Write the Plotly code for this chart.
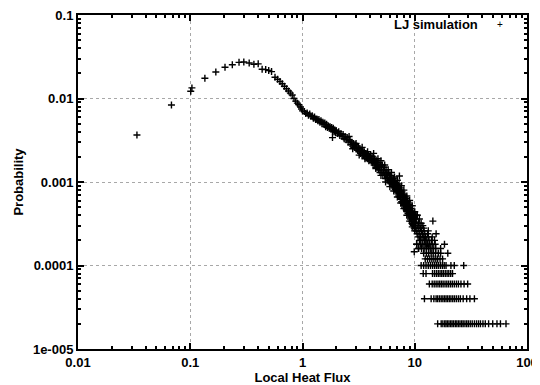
import plotly.graph_objects as go

# ---- data ----
peak_x = [0.0335, 0.068, 0.1035, 0.101, 0.135, 0.169, 0.204, 0.237, 0.272, 0.30, 0.335, 0.369,
          0.403, 0.437, 0.47, 0.50, 0.53, 0.569, 0.60, 0.63, 0.66, 0.69, 0.72, 0.75, 0.78, 0.81,
          0.84, 0.87, 0.90, 0.93, 0.96, 0.98]
peak_y = [0.00366, 0.00835, 0.0134, 0.0122, 0.0175, 0.0208, 0.0237, 0.0254, 0.0271, 0.0274, 0.0266,
          0.0257, 0.026, 0.0224, 0.0222, 0.0216, 0.021, 0.018, 0.0170, 0.0160, 0.0150, 0.0140, 0.0131,
          0.0123, 0.0116, 0.0110, 0.0100, 0.0093, 0.0088, 0.0084, 0.0079, 0.0075]

band_x = [1.00, 1.04, 1.07, 1.10, 1.13, 1.16, 1.19, 1.22, 1.25, 1.28, 1.31, 1.34, 1.37, 1.40, 1.43,
          1.46, 1.49, 1.52, 1.55, 1.58, 1.61, 1.64, 1.67, 1.70, 1.73, 1.76, 1.79, 1.82, 1.85, 1.88,
          1.91, 1.94, 1.97, 2.00, 1.85,
          2.05, 2.10, 2.15, 2.20, 2.25, 2.30, 2.35, 2.40, 2.45, 2.50, 2.55, 2.60, 2.65, 2.70, 2.75,
          2.80, 2.85, 2.90, 2.95, 3.00, 3.05, 3.10, 3.15, 3.20, 3.25, 3.30, 3.35, 3.40, 3.45, 3.50,
          3.55, 3.60, 3.65, 3.70, 3.75, 3.80, 3.85, 3.90, 3.95, 4.00,
          4.05, 4.10, 4.15, 4.20, 4.25, 4.30, 4.35, 4.40, 4.45, 4.50, 4.55, 4.60, 4.65, 4.70, 4.75,
          4.80, 4.85, 4.90, 4.95, 5.00, 5.05, 5.10, 5.15, 5.20, 5.25, 5.30, 5.35, 5.40, 5.45, 5.50,
          5.55, 5.60, 5.65, 5.70, 5.75, 5.80, 5.85, 5.90, 5.95, 6.00, 6.05, 6.10, 6.15, 6.20, 6.25,
          6.30, 6.35, 6.40, 6.45, 6.50, 6.55, 6.60, 6.65, 6.70, 6.75, 6.80, 6.85, 6.90, 6.95, 7.00,
          7.05, 7.10, 7.15, 7.20, 7.25, 7.30, 7.35, 7.40, 7.45, 7.50, 7.55, 7.60, 7.65, 7.70, 7.75,
          7.80, 7.85, 7.90, 7.95, 8.00, 8.05, 8.10, 8.15, 8.20, 8.25, 8.30, 8.35, 8.40, 8.45, 8.50,
          8.55, 8.60, 8.65, 8.70, 8.75, 8.80, 8.85, 8.90, 8.95, 9.00, 9.05, 9.10, 9.15, 9.20, 9.25,
          9.30, 9.35, 9.40, 9.45, 9.50, 9.55, 9.60, 9.65, 9.70, 9.75, 9.80, 9.85, 9.90, 9.95, 10.0]
band_y = [0.0071, 0.0070, 0.0066, 0.0067, 0.0063, 0.0065, 0.0061, 0.0062, 0.0058, 0.0060, 0.0056,
          0.0057, 0.0054, 0.0056, 0.0052, 0.0054, 0.0050, 0.0052, 0.0049, 0.0051, 0.0046, 0.0049,
          0.0045, 0.0047, 0.0044, 0.0046, 0.0043, 0.0045, 0.0041, 0.0044, 0.0040, 0.0042, 0.0039,
          0.0041, 0.0034,
          0.0038, 0.0040, 0.0036, 0.0038, 0.0035, 0.0037, 0.0033, 0.0035, 0.0032, 0.0034, 0.0030,
          0.0032, 0.0031, 0.0028, 0.0030, 0.0027, 0.0029, 0.0026, 0.0028, 0.0025, 0.0027, 0.0024,
          0.0026, 0.0023, 0.0025, 0.0022, 0.0024, 0.0021, 0.0023, 0.0021, 0.0023, 0.0020, 0.0022,
          0.0020, 0.0022, 0.0019, 0.0021, 0.0018, 0.0020, 0.0019,
          0.0021, 0.0018, 0.0019, 0.0017, 0.0020, 0.0018, 0.0016, 0.0019, 0.0017, 0.0015, 0.0018,
          0.0016, 0.0017, 0.0015, 0.0014, 0.0017, 0.0015, 0.0013, 0.0016, 0.0014, 0.0015, 0.0013,
          0.0016, 0.0012, 0.0014, 0.0013, 0.0015, 0.0012, 0.0013, 0.0011, 0.0014, 0.0012, 0.0013,
          0.0011, 0.0012, 0.00105, 0.0013, 0.0011, 0.0012, 0.00098, 0.0011, 0.0012, 0.00095,
          0.00105, 0.0011, 0.00092, 0.0010, 0.00088, 0.0011, 0.00095, 0.00085, 0.0010, 0.00092,
          0.00082, 0.00098, 0.00088, 0.00078, 0.00094, 0.00085, 0.00076,
          0.00090, 0.00072, 0.00082, 0.00068, 0.00095, 0.00078, 0.00066, 0.00085, 0.00072, 0.00062,
          0.00080, 0.00070, 0.00058, 0.00076, 0.00066, 0.00056, 0.00072, 0.00062, 0.00052, 0.00070,
          0.00060, 0.00050, 0.00066, 0.00056, 0.00048, 0.00064, 0.00054, 0.00046, 0.00060, 0.00052,
          0.00044, 0.00058, 0.00050, 0.00042, 0.00056, 0.00048, 0.00040, 0.00054, 0.00046, 0.00038,
          0.00050, 0.00044, 0.00036, 0.00048, 0.00042, 0.00034, 0.00046, 0.00040, 0.00032, 0.00044,
          0.00038, 0.00031, 0.00042, 0.00036, 0.00030, 0.00040, 0.00034, 0.00028, 0.00038, 0.00033]

fringe_x = [2.6, 3.0, 3.4, 3.8, 2.8, 3.2, 3.6,
            4.3, 4.7, 5.0, 5.4, 5.8, 6.2, 6.6, 7.0, 7.3, 7.6, 8.0, 8.5, 9.0, 9.5, 10.0, 10.5,
            4.5, 5.0, 5.5, 6.0, 6.5, 7.0, 7.5, 8.0, 8.5, 9.0, 9.5, 9.9, 10.0, 10.4, 10.8, 14.5]
fringe_y = [0.0035, 0.0029, 0.0026, 0.0023, 0.0025, 0.0021, 0.0019,
            0.0022, 0.0019, 0.0018, 0.0016, 0.0014, 0.0013, 0.00115, 0.00105, 0.00118, 0.00090,
            0.00080, 0.00068, 0.00060, 0.00052, 0.00044, 0.00040,
            0.00145, 0.0012, 0.00100, 0.00088, 0.00078, 0.00066, 0.00056, 0.00048, 0.00040, 0.00034,
            0.00029, 0.000146, 0.00026, 0.00018, 0.00016, 0.00034]

# tail: rows of equal probability (single-count levels) and the x positions on each row
row_levels = [2e-5, 4e-5, 6e-5, 8e-5, 1e-4, 1.2e-4, 1.4e-4, 1.6e-4, 1.8e-4, 2e-4, 2.2e-4,
              2.4e-4, 2.6e-4, 2.8e-4, 3e-4, 3.2e-4, 3.6e-4, 4e-4]
row_x = [
    [16.0, 17.2, 17.8, 18.5, 19.0, 19.6, 20.2, 20.9, 21.5, 22.2, 23.0, 23.7, 24.5, 25.3, 26.2,
     27.0, 28.0, 29.0, 30.0, 31.2, 32.5, 34.0, 35.5, 37.0, 38.5, 40.5, 42.5, 45.5, 49.5, 54.0,
     58.0, 65.0],
    [12.2, 14.0, 14.8, 15.5, 16.0, 16.6, 17.2, 17.8, 18.4, 19.0, 19.6, 20.3, 21.0, 21.8, 22.6,
     23.5, 24.5, 25.5, 27.0, 29.0, 31.0, 34.0],
    [13.5, 14.3, 14.9, 15.5, 16.1, 16.7, 17.3, 17.9, 18.6, 19.3, 20.0, 20.8, 21.6, 22.5, 23.5,
     24.5, 25.8, 27.5, 29.6],
    [11.9, 12.6, 14.4, 15.0, 15.6, 16.2, 16.8, 17.4, 18.0, 18.7, 19.4, 20.1, 20.9, 21.7],
    [11.4, 12.0, 12.6, 13.2, 13.8, 14.4, 15.0, 15.6, 16.2, 16.9, 17.6, 18.3, 19.0, 21.0, 22.5, 27.3],
    [12.4, 13.0, 13.6, 14.2, 14.8, 15.4, 16.0, 16.8, 17.7],
    [12.0, 12.7, 13.3, 14.0, 14.6, 15.3, 16.2, 17.0, 19.7],
    [10.8, 11.5, 12.1, 12.7, 13.3, 13.9, 14.6, 15.4, 17.0],
    [10.4, 11.2, 11.8, 12.4, 13.0, 13.6, 14.3, 15.2, 18.4],
    [11.0, 11.6, 12.2, 12.8, 13.4, 14.1, 15.0],
    [10.7, 11.3, 11.9, 12.5, 13.2, 14.3],
    [10.5, 11.1, 11.7, 12.3, 13.0, 15.5],
    [10.3, 10.9, 11.5, 12.1, 13.2],
    [10.1, 10.7, 11.3, 12.0],
    [10.0, 10.5, 11.1, 11.8],
    [10.2, 10.8, 11.4],
    [10.3, 11.0],
    [10.1, 10.5],
]

series_name = "LJ simulation"
x_ticks = [0.01, 0.1, 1, 10, 100]
x_ticktext = ["0.01", "0.1", "1", "10", "100"]
y_ticks = [1e-5, 1e-4, 1e-3, 1e-2, 1e-1]
y_ticktext = ["1e-005", "0.0001", "0.001", "0.01", "0.1"]

# ---- assemble ----
xs = list(peak_x) + list(band_x) + list(fringe_x)
ys = list(peak_y) + list(band_y) + list(fringe_y)
for lvl, xr in zip(row_levels, row_x):
    xs += xr
    ys += [lvl] * len(xr)

FONT = "Liberation Sans, Arial, sans-serif"

fig = go.Figure()
fig.add_trace(go.Scatter(
    x=xs, y=ys, mode="markers", name=series_name, showlegend=False,
    marker=dict(symbol="cross-thin", size=5, color="black",
                line=dict(width=1.4, color="black")),
))

def minor_vals(lo, hi):
    out = []
    for e in range(lo, hi):
        for m in range(2, 10):
            out.append(m * 10.0 ** e)
    return out

axis_common = dict(
    type="log", showline=True, linewidth=2, linecolor="black", mirror="allticks",
    ticks="inside", ticklen=6, tickwidth=1.5, tickcolor="black",
    showgrid=True, gridcolor="#a8a8a8", griddash="dot", gridwidth=1,
    zeroline=False, tickmode="array", automargin=False, ticklabeloverflow="allow",
    tickfont=dict(family=FONT, size=13, color="black", weight="bold"),
)

fig.update_xaxes(
    **axis_common, range=[-2, 2], tickvals=x_ticks, ticktext=x_ticktext,
    minor=dict(tickmode="array", tickvals=minor_vals(-2, 2), ticks="inside", ticklen=3,
               tickwidth=1.5, tickcolor="black", showgrid=False),
    title=dict(text="Local Heat Flux", standoff=2,
               font=dict(family=FONT, size=13, color="black", weight="bold")),
)
fig.update_yaxes(
    **axis_common, range=[-5, -1], tickvals=y_ticks, ticktext=y_ticktext,
    minor=dict(tickmode="array", tickvals=minor_vals(-5, -1), ticks="inside", ticklen=3,
               tickwidth=1.5, tickcolor="black", showgrid=False),
    title=dict(text="Probability", standoff=6,
               font=dict(family=FONT, size=13, color="black", weight="bold")),
)

fig.add_annotation(x=0.895, y=0.973, xref="paper", yref="paper", text=series_name,
                   showarrow=False, xanchor="right", yanchor="middle",
                   font=dict(family=FONT, size=13, color="black", weight="bold"))
fig.add_annotation(x=0.94, y=0.973, xref="paper", yref="paper", text="+",
                   showarrow=False, xanchor="center", yanchor="middle",
                   font=dict(family=FONT, size=10, color="black"))

# the page adds an 8 px body margin at left/top, so the figure is 8 px smaller on each axis
fig.update_layout(
    width=532, height=377,
    margin=dict(l=70, r=13, t=7, b=36),
    plot_bgcolor="white", paper_bgcolor="white",
    font=dict(family=FONT, color="black"),
)

fig.write_html("out.html")
